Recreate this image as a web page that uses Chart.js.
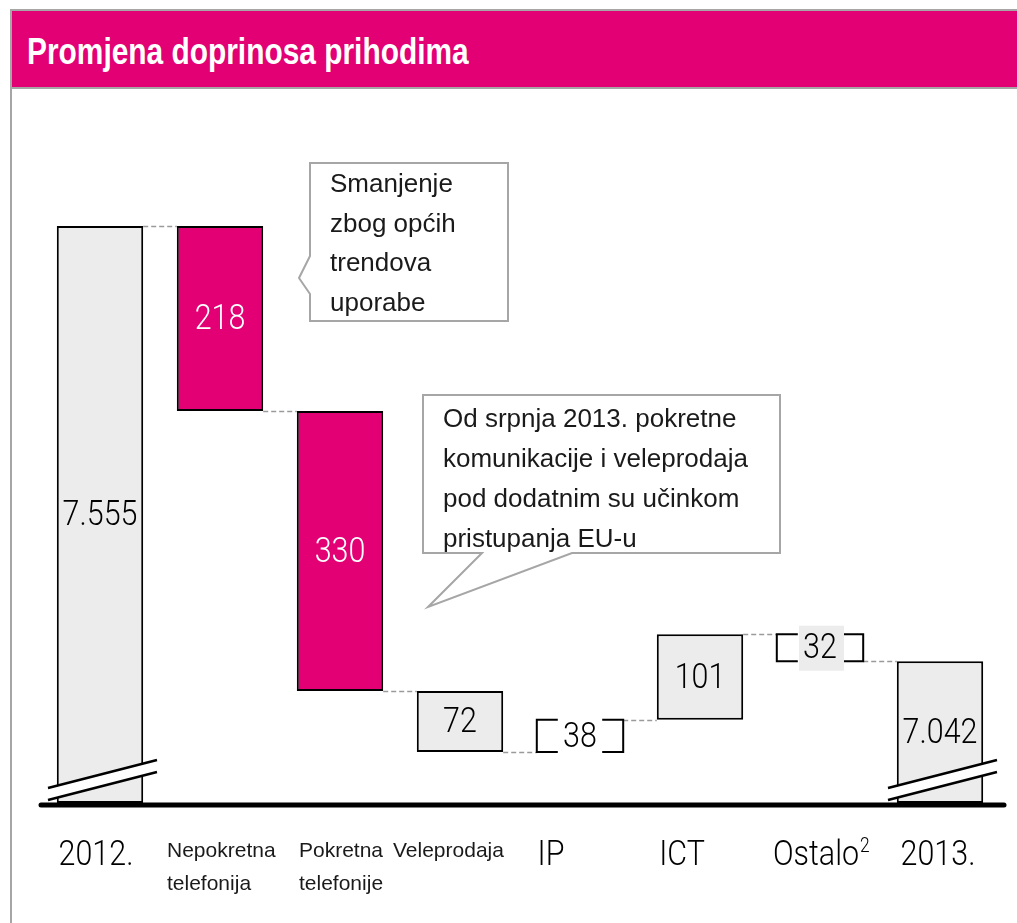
<!DOCTYPE html>
<html>
<head>
<meta charset="utf-8">
<script src="https://cdn.jsdelivr.net/npm/chart.js@4.4.0/dist/chart.umd.min.js"></script>
<style>
  html, body { margin: 0; padding: 0; background: #fff; width: 1017px; height: 923px; overflow: hidden; }
  #frame { position: absolute; left: 10px; top: 9px; width: 1030px; height: 940px; border: 2px solid #a6a6a6; box-sizing: border-box; }
  #head { position: absolute; left: 12px; top: 11px; width: 1010px; height: 76px; background: #e20074; border-bottom: 2px solid #a6a6a6; }
  #head h1 { margin: 0; position: absolute; left: 15px; top: 21px; font: bold 36px "Liberation Sans", Arial, sans-serif; line-height: 40px; color: #fff; white-space: nowrap; transform: scaleX(0.83); transform-origin: 0 0; }
  #chart { position: absolute; left: 0; top: 0; }
</style>
</head>
<body>
<div id="frame"></div>
<div id="head"><h1>Promjena doprinosa prihodima</h1></div>
<canvas id="chart" width="1017" height="923"></canvas>
<script>
// podaci (mil. kn)
const categories = ['2012.', ['Nepokretna', 'telefonija'], ['Pokretna', 'telefonije'], 'Veleprodaja', 'IP', 'ICT', 'Ostalo', '2013.'];
const startTotal = 7555;
const changes = [-218, -330, -72, 38, 101, -32];
const endTotal = 7042;
const valueLabels = ['7.555', '218', '330', '72', '38', '101', '32', '7.042'];
const axisBase = 6875; // prekinuta os
const axisTop = 7700;

// izgled stupaca po kategoriji
const barKinds = ['total', 'hl', 'hl', 'plain', 'bracket', 'plain', 'bracket', 'total'];

const MAGENTA = '#e20074';
const LIGHT = '#ececec';
const FONT = '"Liberation Sans", Arial, sans-serif';
const BIGFONT = '300 35px Roboto, "Liberation Sans", sans-serif';
const NARROW = 0.87; // nema uskog fonta, pa se tekst sužava

// plutajući stupci + razine za isprekidane spojnice
const ranges = [[axisBase, startTotal]];
const levels = [startTotal];
let running = startTotal;
changes.forEach(c => {
    const next = running + c;
    ranges.push([Math.min(running, next), Math.max(running, next)]);
    running = next;
    levels.push(running);
});
ranges.push([axisBase, endTotal]);
levels.push(endTotal);

// oznake osi x: [veličina, poravnanje, pomak od središta]
const xLabelLayout = [
    [35, 'center', -4], [21, 'left', -53], [21, 'left', -41], [21, 'left', -67],
    [35, 'center', -29], [35, 'center', -18], [35, 'left', -47], [35, 'center', -2]
];

const callouts = [
    { box: [310, 163, 508, 321], tail: [[310, 256], [299, 278], [310, 294]], side: 'left',
      lines: ['Smanjenje', 'zbog općih', 'trendova', 'uporabe'], tx: 330, ty: 192, lh: 39.5 },
    { box: [423, 395, 780, 553], tail: [[572, 553], [428, 607], [482, 553]], side: 'bottom',
      lines: ['Od srpnja 2013. pokretne', 'komunikacije i veleprodaja', 'pod dodatnim su učinkom', 'pristupanja EU-u'], tx: 443, ty: 427, lh: 40 }
];

function narrowText(ctx, s, x, y) {
    ctx.save();
    ctx.translate(x, y);
    ctx.scale(NARROW, 1);
    ctx.fillText(s, 0, 0);
    ctx.restore();
}

const waterfallPlugin = {
    id: 'waterfall',
    beforeDatasetsDraw(chart) {
        const ctx = chart.ctx;
        const meta = chart.getDatasetMeta(0);
        const y = chart.scales.y;
        ctx.save();
        ctx.strokeStyle = '#9a9a9a';
        ctx.lineWidth = 1.5;
        ctx.setLineDash([5, 3]);
        for (let i = 0; i < meta.data.length - 1; i++) {
            const a = meta.data[i], b = meta.data[i + 1];
            const py = Math.round(y.getPixelForValue(levels[i])) + 0.5;
            ctx.beginPath();
            ctx.moveTo(a.x + a.width / 2, py);
            ctx.lineTo(b.x - b.width / 2, py);
            ctx.stroke();
        }
        ctx.restore();
    },
    afterDatasetsDraw(chart) {
        const ctx = chart.ctx;
        const meta = chart.getDatasetMeta(0);
        const area = chart.chartArea;
        ctx.save();

        // zagrade za male promjene
        meta.data.forEach((el, i) => {
            if (barKinds[i] !== 'bracket') return;
            const l = el.x - el.width / 2, r = el.x + el.width / 2;
            const t = Math.min(el.y, el.base), b = Math.max(el.y, el.base);
            const arm = 21;
            ctx.strokeStyle = '#000';
            ctx.lineWidth = 2;
            ctx.beginPath();
            ctx.moveTo(l + arm, t); ctx.lineTo(l, t); ctx.lineTo(l, b); ctx.lineTo(l + arm, b);
            ctx.moveTo(r - arm, t); ctx.lineTo(r, t); ctx.lineTo(r, b); ctx.lineTo(r - arm, b);
            ctx.stroke();
        });

        // oznake prekida
        meta.data.forEach((el, i) => {
            if (barKinds[i] !== 'total') return;
            const x0 = el.x - 52, x1 = el.x + 57, yb = area.bottom;
            ctx.fillStyle = '#fff';
            ctx.beginPath();
            ctx.moveTo(x0, yb - 15); ctx.lineTo(x1, yb - 43); ctx.lineTo(x1, yb - 31); ctx.lineTo(x0, yb - 3);
            ctx.closePath();
            ctx.fill();
            ctx.strokeStyle = '#000';
            ctx.lineWidth = 2.5;
            ctx.beginPath();
            ctx.moveTo(x0, yb - 15); ctx.lineTo(x1, yb - 43);
            ctx.moveTo(x0, yb - 3); ctx.lineTo(x1, yb - 31);
            ctx.stroke();
        });

        // os
        ctx.strokeStyle = '#000';
        ctx.lineWidth = 5;
        ctx.lineCap = 'round';
        ctx.beginPath();
        ctx.moveTo(area.left + 1, area.bottom + 2);
        ctx.lineTo(area.right + 4, area.bottom + 2);
        ctx.stroke();
        ctx.lineCap = 'butt';

        // vrijednosti u stupcima
        ctx.textAlign = 'center';
        ctx.textBaseline = 'middle';
        ctx.font = BIGFONT;
        meta.data.forEach((el, i) => {
            const t = Math.min(el.y, el.base), b = Math.max(el.y, el.base);
            const cy = (t + b) / 2;
            if (barKinds[i] === 'bracket' && i === 6) {
                ctx.fillStyle = LIGHT;
                ctx.fillRect(el.x - 21, cy - 22, 45, 45);
            }
            ctx.fillStyle = barKinds[i] === 'hl' ? '#fff' : '#000';
            narrowText(ctx, valueLabels[i], el.x, cy + 2);
        });

        // oblačići
        callouts.forEach(c => {
            const [l, t, r, b] = c.box;
            ctx.beginPath();
            ctx.moveTo(l, t); ctx.lineTo(r, t); ctx.lineTo(r, b);
            if (c.side === 'bottom') {
                ctx.lineTo(c.tail[0][0], b);
                ctx.lineTo(c.tail[1][0], c.tail[1][1]);
                ctx.lineTo(c.tail[2][0], b);
                ctx.lineTo(l, b);
                ctx.lineTo(l, t);
            } else {
                ctx.lineTo(l, b);
                ctx.lineTo(l, c.tail[2][1]);
                ctx.lineTo(c.tail[1][0], c.tail[1][1]);
                ctx.lineTo(l, c.tail[0][1]);
                ctx.lineTo(l, t);
            }
            ctx.closePath();
            ctx.fillStyle = '#fff';
            ctx.fill();
            ctx.strokeStyle = '#a6a6a6';
            ctx.lineWidth = 2;
            ctx.stroke();
            ctx.fillStyle = '#1a1a1a';
            ctx.font = '26px ' + FONT;
            ctx.textAlign = 'left';
            ctx.textBaseline = 'alphabetic';
            c.lines.forEach((s, k) => ctx.fillText(s, c.tx, c.ty + k * c.lh));
        });

        // oznake kategorija
        ctx.fillStyle = '#000';
        ctx.textBaseline = 'alphabetic';
        categories.forEach((cat, i) => {
            const [size, align, dx] = xLabelLayout[i];
            const x = chart.scales.x.getPixelForValue(i) + dx;
            const lines = Array.isArray(cat) ? cat : [cat];
            ctx.textAlign = align;
            if (size > 30) {
                ctx.font = BIGFONT;
                narrowText(ctx, lines[0], x, 865);
                if (i === 6) {
                    const w = ctx.measureText(lines[0]).width * NARROW;
                    ctx.font = '300 20px Roboto, sans-serif';
                    ctx.textAlign = 'left';
                    narrowText(ctx, '2', x + w + 1, 852);
                }
            } else {
                ctx.fillStyle = '#1a1a1a';
                ctx.font = size + 'px ' + FONT;
                lines.forEach((s, k) => ctx.fillText(s, x, 857 + k * 33));
                ctx.fillStyle = '#000';
            }
        });
        ctx.restore();
    }
};

new Chart(document.getElementById('chart'), {
    type: 'bar',
    data: {
        labels: categories,
        datasets: [{
            data: ranges,
            backgroundColor: barKinds.map(k => k === 'hl' ? MAGENTA : (k === 'bracket' ? 'rgba(0,0,0,0)' : LIGHT)),
            borderColor: '#000',
            borderWidth: barKinds.map(k => k === 'bracket' ? 0 : 2),
            borderSkipped: false,
            barPercentage: 0.72,
            categoryPercentage: 1
        }]
    },
    options: {
        responsive: false,
        animation: false,
        events: [],
        layout: { padding: { left: 40, right: 17, top: 103, bottom: 120 } },
        scales: {
            x: { display: false, offset: true },
            y: { display: false, min: axisBase, max: axisTop }
        },
        plugins: {
            legend: { display: false },
            tooltip: { enabled: false }
        }
    },
    plugins: [waterfallPlugin]
});
</script>
</body>
</html>
